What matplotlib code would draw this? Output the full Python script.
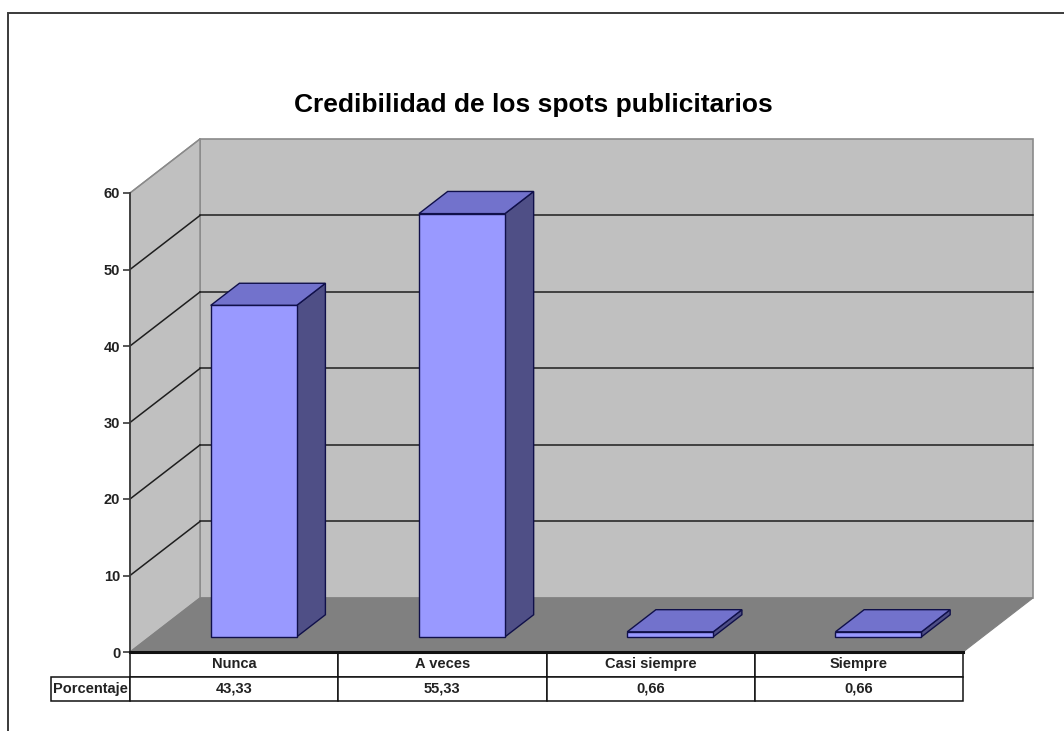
import matplotlib
matplotlib.use("Agg")
import matplotlib.pyplot as plt
from matplotlib.patches import Polygon, Rectangle

categories = ["Nunca", "A veces", "Casi siempre", "Siempre"]
porcentaje = [43.33, 55.33, 0.66, 0.66]
value_labels = ["43,33", "55,33", "0,66", "0,66"]
row_label = "Porcentaje"
yticks = [0, 10, 20, 30, 40, 50, 60]

plt.rcParams["font.family"] = ["Liberation Sans", "DejaVu Sans"]

W, H = 1064, 731
fig = plt.figure(figsize=(W / 100, H / 100), dpi=100)
fig.patch.set_facecolor("white")

# frame around the chart area (open to the right and bottom)
fig.patches.append(Rectangle((8 / W, -0.1), 1.2, 1 - 13 / H + 0.1,
                             transform=fig.transFigure, fill=False,
                             edgecolor="#3a3a3a", lw=1.4))

# front plane of the plot: x in category units, y in percent
ax = fig.add_axes([130 / W, (H - 652) / H, 833 / W, 459 / H])
n = len(categories)
ymax = 60
ax.set_xlim(0, n)
ax.set_ylim(0, ymax)

# oblique depth offset in data units
ox, oy = 0.336, 7.06

wall = "#c0c0c0"
floor = "#808080"
ax.add_patch(Polygon([(ox, oy), (n + ox, oy), (n + ox, ymax + oy), (ox, ymax + oy)],
                     closed=True, facecolor=wall, edgecolor="#8a8a8a", lw=1.2,
                     clip_on=False, zorder=1))
ax.add_patch(Polygon([(0, 0), (ox, oy), (ox, ymax + oy), (0, ymax)],
                     closed=True, facecolor=wall, edgecolor="#8a8a8a", lw=1.0,
                     clip_on=False, zorder=1))
ax.add_patch(Polygon([(0, 0), (n, 0), (n + ox, oy), (ox, oy)],
                     closed=True, facecolor=floor, edgecolor=floor, lw=0.8,
                     clip_on=False, zorder=1.5))

# gridlines on back wall and side wall
for v in yticks[1:-1]:
    ax.plot([ox, n + ox], [v + oy, v + oy], color="#1e1e1e", lw=1.1,
            clip_on=False, zorder=2)
    ax.plot([0, ox], [v, v + oy], color="#1e1e1e", lw=1.1,
            clip_on=False, zorder=2)
ax.plot([0, ox], [ymax, ymax + oy], color="#8a8a8a", lw=1.0, clip_on=False, zorder=2)

# 3D bars
bw = 0.413           # bar width
d0, dd = 0.28, 0.41  # depth start and depth extent (fractions)
front_c, top_c, side_c, edge_c = "#9999ff", "#7272cc", "#4f4f86", "#10104a"
for i, v in enumerate(porcentaje):
    x0 = i + 0.5 - bw / 2 + d0 * ox
    y0 = d0 * oy
    x1 = x0 + bw
    y1 = y0 + v
    ddx, ddy = dd * ox, dd * oy
    ax.add_patch(Polygon([(x1, y0), (x1 + ddx, y0 + ddy), (x1 + ddx, y1 + ddy), (x1, y1)],
                         closed=True, facecolor=side_c, edgecolor=edge_c, lw=1.0,
                         clip_on=False, zorder=3))
    ax.add_patch(Polygon([(x0, y1), (x1, y1), (x1 + ddx, y1 + ddy), (x0 + ddx, y1 + ddy)],
                         closed=True, facecolor=top_c, edgecolor=edge_c, lw=1.0,
                         clip_on=False, zorder=3))
    ax.add_patch(Rectangle((x0, y0), bw, v, facecolor=front_c, edgecolor=edge_c,
                           lw=1.0, clip_on=False, zorder=3.5))

# axes styling: only the front value axis
for s in ["top", "right", "bottom"]:
    ax.spines[s].set_visible(False)
ax.spines["left"].set_color("#3a3a3a")
ax.spines["left"].set_linewidth(1.3)
ax.spines["left"].set_zorder(4)
ax.patch.set_visible(False)
ax.set_xticks([])
ax.set_yticks(yticks)
ax.tick_params(axis="y", direction="out", length=5, width=1.2, color="#3a3a3a",
               pad=2, labelsize=10.5)
for lab in ax.get_yticklabels():
    lab.set_fontweight("bold")
    lab.set_color("#222222")

# data table under the plot; first column holds the row label
lab_w = 0.25 * 79 / 208.25
tbl = ax.table(cellText=[[row_label] + value_labels],
               colLabels=[""] + categories,
               colWidths=[lab_w] + [0.25] * n,
               cellLoc="center",
               bbox=[-lab_w, -0.1068, 1 + lab_w, 0.1068])
tbl.auto_set_font_size(False)
tbl.set_fontsize(10.5)
for (r, c), cell in tbl.get_celld().items():
    cell.set_edgecolor("#111111")
    cell.set_linewidth(1.1)
    cell.get_text().set_fontweight("bold")
    cell.get_text().set_color("#222222")
    if c == 0:
        if r == 0:
            cell.visible_edges = ""
            cell.set_facecolor("none")
        else:
            cell.PAD = 0.02
            cell._loc = "left"
            cell.get_text().set_ha("left")
            cell.get_text().set_zorder(6)

ax.plot([0, n], [0, 0], color="#111111", lw=2.2, clip_on=False, zorder=5)

fig.suptitle("Credibilidad de los spots publicitarios", x=533 / W, y=1 - 105 / H,
             va="center", fontsize=19, fontweight="bold")

fig.savefig("out.png", dpi=100)
